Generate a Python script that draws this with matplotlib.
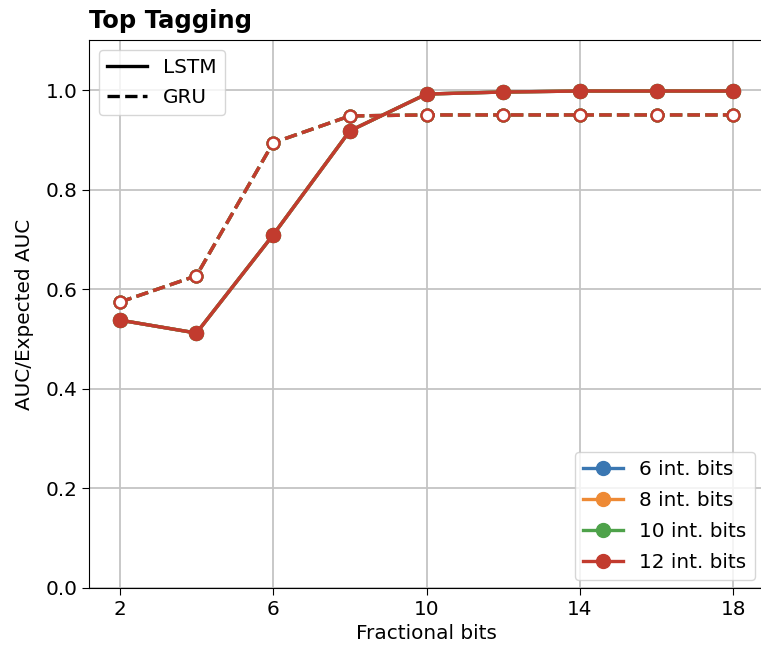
import matplotlib
matplotlib.use("Agg")
import matplotlib.pyplot as plt
from matplotlib.lines import Line2D

frac_bits = [2, 4, 6, 8, 10, 12, 14, 16, 18]
int_bits = [6, 8, 10, 12]
colors = ["#3a77b2", "#ee8a35", "#4ea24a", "#c23b2e"]

# AUC ratio per integer-bit setting (curves coincide across settings)
lstm_auc = {
    6:  [0.538, 0.512, 0.709, 0.918, 0.992, 0.996, 0.998, 0.998, 0.998],
    8:  [0.538, 0.512, 0.709, 0.918, 0.992, 0.996, 0.998, 0.998, 0.998],
    10: [0.538, 0.512, 0.709, 0.918, 0.992, 0.996, 0.998, 0.998, 0.998],
    12: [0.538, 0.512, 0.709, 0.918, 0.992, 0.996, 0.998, 0.998, 0.998],
}
gru_auc = {
    6:  [0.574, 0.627, 0.894, 0.948, 0.950, 0.950, 0.950, 0.950, 0.950],
    8:  [0.574, 0.627, 0.894, 0.948, 0.950, 0.950, 0.950, 0.950, 0.950],
    10: [0.574, 0.627, 0.894, 0.948, 0.950, 0.950, 0.950, 0.950, 0.950],
    12: [0.574, 0.627, 0.894, 0.948, 0.950, 0.950, 0.950, 0.950, 0.950],
}

fs = 14.4

fig = plt.figure(figsize=(7.61, 6.49), dpi=100)
ax = fig.add_axes([0.117, 0.094, 0.887, 0.844])

for ib, c in zip(int_bits, colors):
    ax.plot(frac_bits, lstm_auc[ib], "-", color=c, lw=2.4, marker="o",
            ms=10, zorder=3)
    ax.plot(frac_bits, gru_auc[ib], "--", color=c, lw=2.4, marker="o",
            ms=8.5, mfc="white", mec=c, mew=1.7, zorder=3)

ax.set_xlim(1.2, 18.8)
ax.set_ylim(0.0, 1.1)
ax.set_xticks([2, 6, 10, 14, 18])
ax.set_yticks([0.0, 0.2, 0.4, 0.6, 0.8, 1.0])
ax.tick_params(labelsize=fs, length=5)
ax.grid(True, color="#c4c4c4", lw=1.3)
ax.set_axisbelow(True)
ax.set_xlabel("Fractional bits", fontsize=fs)
ax.set_ylabel("AUC/Expected AUC", fontsize=fs, labelpad=8)
ax.set_title("Top Tagging", loc="left", fontsize=17.5, fontweight="bold",
             pad=9)

style_handles = [Line2D([], [], color="black", ls="-", lw=2.4),
                 Line2D([], [], color="black", ls="--", lw=2.4)]
leg1 = ax.legend(style_handles, ["LSTM", "GRU"], loc="upper left",
                 fontsize=fs, borderaxespad=0.5, labelspacing=0.55)
ax.add_artist(leg1)

color_handles = [Line2D([], [], color=c, lw=2.4, marker="o", ms=10)
                 for c in colors]
ax.legend(color_handles, [f"{ib} int. bits" for ib in int_bits],
          loc="lower right", fontsize=fs, borderaxespad=0.4,
          labelspacing=0.6, bbox_to_anchor=(0.998, 0.0))

fig.savefig("out.png", dpi=100)
